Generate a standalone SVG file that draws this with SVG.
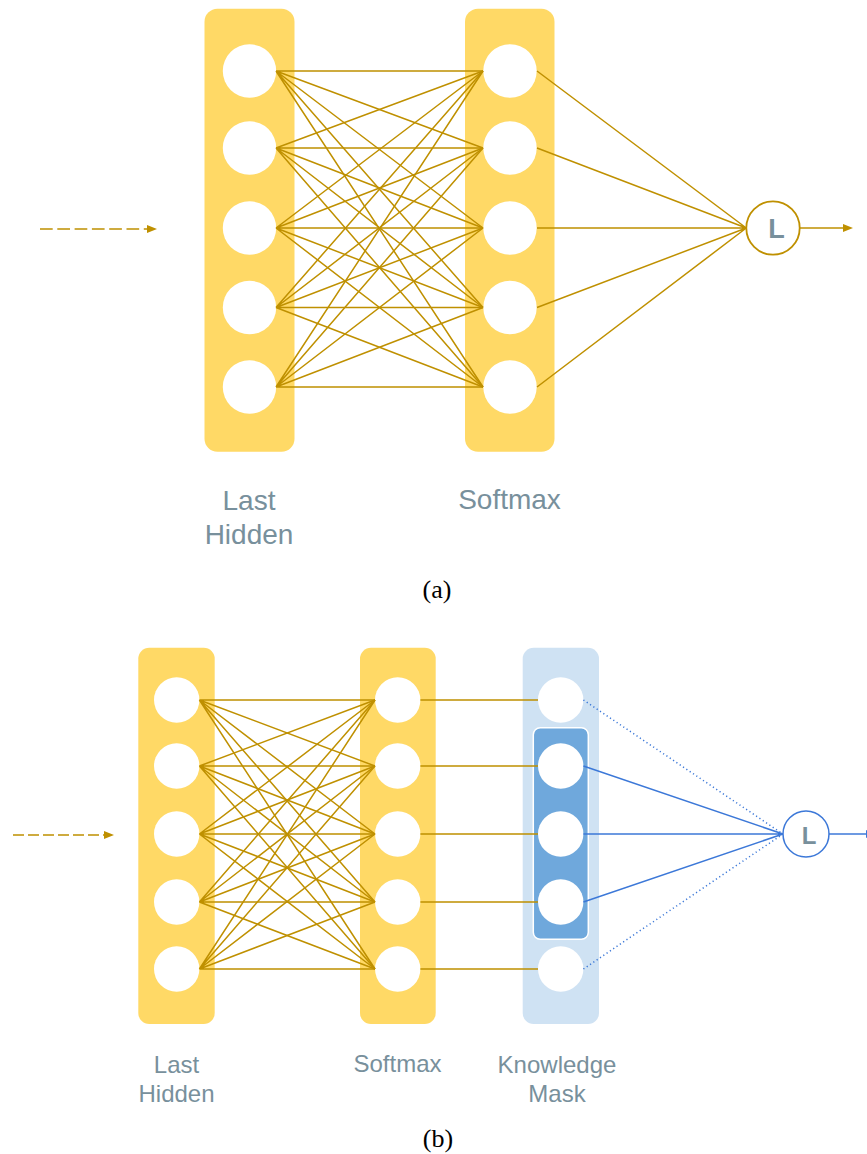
<svg xmlns="http://www.w3.org/2000/svg" width="867" height="1154" viewBox="0 0 867 1154">
  <defs>
    <marker id="headGold" markerWidth="10" markerHeight="8" refX="0" refY="4" orient="auto" markerUnits="userSpaceOnUse">
      <path d="M0,0 L10,4 L0,8 Z" fill="#bf9000"/>
    </marker>
    <marker id="headBlue" markerWidth="10" markerHeight="8" refX="0" refY="4" orient="auto" markerUnits="userSpaceOnUse">
      <path d="M0,0 L10,4 L0,8 Z" fill="#3c78d8"/>
    </marker>
    <style>
      .layer { fill: #ffd966; }
      .mask { fill: #cfe2f3; }
      .keep { fill: #6fa8dc; stroke: #ffffff; stroke-width: 1.5; }
      .unit { fill: #ffffff; }
      .gold { fill: none; stroke: #bf9000; stroke-width: 1.5; }
      .blue { fill: none; stroke: #3c78d8; stroke-width: 1.5; }
      .dot { fill: none; stroke: #3c78d8; stroke-width: 1.5; stroke-dasharray: 1.2 2.8; }
      .lossA { fill: #ffffff; stroke: #bf9000; stroke-width: 1.8; }
      .lossB { fill: #ffffff; stroke: #3c78d8; stroke-width: 1.5; }
      .lbl { font-family: "Liberation Sans", Arial, sans-serif; fill: #78909c; text-anchor: middle; }
      .L { font-family: "Liberation Sans", Arial, sans-serif; font-weight: bold; fill: #78909c; text-anchor: middle; }
      .cap { font-family: "Liberation Serif", "Times New Roman", serif; fill: #000000; text-anchor: middle; }
    </style>
  </defs>

  <!-- ===== Panel (a) ===== -->
  <g id="a-hidden">
    <rect class="layer" x="204.5" y="8.7" width="90" height="443" rx="13"/>
    <circle class="unit" cx="249.5" cy="71" r="26.7"/>
    <circle class="unit" cx="249.5" cy="148" r="26.7"/>
    <circle class="unit" cx="249.5" cy="228" r="26.7"/>
    <circle class="unit" cx="249.5" cy="307.5" r="26.7"/>
    <circle class="unit" cx="249.5" cy="387" r="26.7"/>
  </g>
  <g id="a-softmax">
    <rect class="layer" x="465" y="8.7" width="89.5" height="443" rx="13"/>
    <circle class="unit" cx="510" cy="71" r="26.7"/>
    <circle class="unit" cx="510" cy="148" r="26.7"/>
    <circle class="unit" cx="510" cy="228" r="26.7"/>
    <circle class="unit" cx="510" cy="307.5" r="26.7"/>
    <circle class="unit" cx="510" cy="387" r="26.7"/>
  </g>

  <g id="a-connectors">
    <!-- input -->
    <path class="gold" d="M40 229H147" stroke-dasharray="12.7 4.6" marker-end="url(#headGold)"/>
    <!-- hidden to softmax, fully connected -->
    <path class="gold" d="M276 71L483 71M276 71L483 148M276 71L483 228M276 71L483 307.5M276 71L483 387"/>
    <path class="gold" d="M276 148L483 71M276 148L483 148M276 148L483 228M276 148L483 307.5M276 148L483 387"/>
    <path class="gold" d="M276 228L483 71M276 228L483 148M276 228L483 228M276 228L483 307.5M276 228L483 387"/>
    <path class="gold" d="M276 307.5L483 71M276 307.5L483 148M276 307.5L483 228M276 307.5L483 307.5M276 307.5L483 387"/>
    <path class="gold" d="M276 387L483 71M276 387L483 148M276 387L483 228M276 387L483 307.5M276 387L483 387"/>
    <!-- softmax to loss -->
    <path class="gold" d="M537 71L746.3 228M537 148L746.3 228M537 228L746.3 228M537 307.5L746.3 228M537 387L746.3 228"/>
    <!-- output -->
    <path class="gold" d="M799.7 228H843" marker-end="url(#headGold)"/>
  </g>

  <g id="a-loss">
    <circle class="lossA" cx="773" cy="228" r="26.7"/>
    <text class="L" x="776.5" y="237.5" font-size="27">L</text>
  </g>

  <g id="a-labels">
    <text class="lbl" font-size="28" x="249" y="509.5">Last</text>
    <text class="lbl" font-size="28" x="249" y="544">Hidden</text>
    <text class="lbl" font-size="28" x="509.5" y="508.5">Softmax</text>
    <text class="cap" font-size="26" x="437" y="598">(a)</text>
  </g>

  <!-- ===== Panel (b) ===== -->
  <g id="b-hidden">
    <rect class="layer" x="138.3" y="647.7" width="76.4" height="376.3" rx="11"/>
    <circle class="unit" cx="176.7" cy="700" r="22.7"/>
    <circle class="unit" cx="176.7" cy="766" r="22.7"/>
    <circle class="unit" cx="176.7" cy="834" r="22.7"/>
    <circle class="unit" cx="176.7" cy="902" r="22.7"/>
    <circle class="unit" cx="176.7" cy="969" r="22.7"/>
  </g>
  <g id="b-softmax">
    <rect class="layer" x="360" y="647.7" width="75.7" height="376.3" rx="11"/>
    <circle class="unit" cx="397.7" cy="700" r="22.7"/>
    <circle class="unit" cx="397.7" cy="766" r="22.7"/>
    <circle class="unit" cx="397.7" cy="834" r="22.7"/>
    <circle class="unit" cx="397.7" cy="902" r="22.7"/>
    <circle class="unit" cx="397.7" cy="969" r="22.7"/>
  </g>
  <g id="b-mask">
    <rect class="mask" x="522.7" y="647.7" width="76.3" height="376.3" rx="11"/>
    <rect class="keep" x="533.3" y="727.7" width="55" height="211.6" rx="7"/>
    <circle class="unit" cx="560.7" cy="700" r="22.7"/>
    <circle class="unit" cx="560.7" cy="766" r="22.7"/>
    <circle class="unit" cx="560.7" cy="834" r="22.7"/>
    <circle class="unit" cx="560.7" cy="902" r="22.7"/>
    <circle class="unit" cx="560.7" cy="969" r="22.7"/>
  </g>

  <g id="b-connectors">
    <!-- input -->
    <path class="gold" d="M13 835H104" stroke-dasharray="11 4" marker-end="url(#headGold)"/>
    <!-- hidden to softmax, fully connected -->
    <path class="gold" d="M199.4 700L375 700M199.4 700L375 766M199.4 700L375 834M199.4 700L375 902M199.4 700L375 969"/>
    <path class="gold" d="M199.4 766L375 700M199.4 766L375 766M199.4 766L375 834M199.4 766L375 902M199.4 766L375 969"/>
    <path class="gold" d="M199.4 834L375 700M199.4 834L375 766M199.4 834L375 834M199.4 834L375 902M199.4 834L375 969"/>
    <path class="gold" d="M199.4 902L375 700M199.4 902L375 766M199.4 902L375 834M199.4 902L375 902M199.4 902L375 969"/>
    <path class="gold" d="M199.4 969L375 700M199.4 969L375 766M199.4 969L375 834M199.4 969L375 902M199.4 969L375 969"/>
    <!-- softmax to mask, one to one -->
    <path class="gold" d="M420.4 700H538M420.4 766H538M420.4 834H538M420.4 902H538M420.4 969H538"/>
    <!-- mask to loss: kept units solid, masked units dotted -->
    <path class="blue" d="M583.4 766L783 834M583.4 834L783 834M583.4 902L783 834"/>
    <path class="dot" d="M583.4 700L783 834M583.4 969L783 834"/>
    <!-- output -->
    <path class="blue" d="M829 834H866" marker-end="url(#headBlue)"/>
  </g>

  <g id="b-loss">
    <circle class="lossB" cx="806" cy="834" r="23"/>
    <text class="L" x="809" y="843.5" font-size="24">L</text>
  </g>

  <g id="b-labels">
    <text class="lbl" font-size="24" x="176.5" y="1073">Last</text>
    <text class="lbl" font-size="24" x="176.5" y="1102">Hidden</text>
    <text class="lbl" font-size="24" x="397.5" y="1072">Softmax</text>
    <text class="lbl" font-size="24" x="557" y="1073">Knowledge</text>
    <text class="lbl" font-size="24" x="557" y="1102">Mask</text>
    <text class="cap" font-size="26" x="438" y="1147">(b)</text>
  </g>
</svg>
